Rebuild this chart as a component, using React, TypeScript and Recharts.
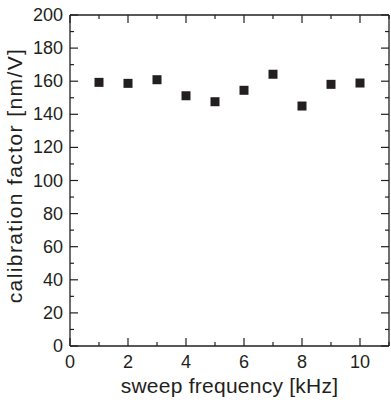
import { ScatterChart, Scatter, XAxis, YAxis, Label } from 'recharts';

// sweep frequency (kHz) and measured calibration factor (nm/V)
const frequencies = [1, 2, 3, 4, 5, 6, 7, 8, 9, 10];
const calibration = [159.3, 158.7, 160.9, 151.2, 147.6, 154.5, 164.2, 145.0, 158.1, 158.9];

const xTicks = [0, 1, 2, 3, 4, 5, 6, 7, 8, 9, 10, 11];
const xLabelled = [0, 2, 4, 6, 8, 10];
const yTicks = [0, 10, 20, 30, 40, 50, 60, 70, 80, 90, 100, 110, 120, 130, 140, 150, 160, 170, 180, 190, 200];
const yLabelled = [0, 20, 40, 60, 80, 100, 120, 140, 160, 180, 200];

const data = frequencies.map((f, i) => ({ f, c: calibration[i] }));

const INK = '#231f20';
const FONT = '"Liberation Sans", Arial, sans-serif';
const MAJOR = 8;
const MINOR = 4;

// ticks point into the plot; only the even/20-step ones carry a number
const BottomTick = (props: any) => {
  const { x, y, payload } = props;
  const major = xLabelled.includes(payload.value);
  return (
    <g>
      <line x1={x} x2={x} y1={y} y2={y - (major ? MAJOR : MINOR)} stroke={INK} strokeWidth={1.2} />
      {major && (
        <text x={x} y={y + 22} textAnchor="middle" fill={INK} fontSize={18} fontFamily={FONT}>
          {payload.value}
        </text>
      )}
    </g>
  );
};

const TopTick = (props: any) => {
  const { x, y, payload } = props;
  const major = xLabelled.includes(payload.value);
  return <line x1={x} x2={x} y1={y} y2={y + (major ? MAJOR : MINOR)} stroke={INK} strokeWidth={1.2} />;
};

const LeftTick = (props: any) => {
  const { x, y, payload } = props;
  const major = yLabelled.includes(payload.value);
  return (
    <g>
      <line x1={x} x2={x + (major ? MAJOR : MINOR)} y1={y} y2={y} stroke={INK} strokeWidth={1.2} />
      {major && (
        <text x={x - 7} y={y + 6} textAnchor="end" fill={INK} fontSize={18} fontFamily={FONT}>
          {payload.value}
        </text>
      )}
    </g>
  );
};

const RightTick = (props: any) => {
  const { x, y, payload } = props;
  const major = yLabelled.includes(payload.value);
  return <line x1={x} x2={x - (major ? MAJOR : MINOR)} y1={y} y2={y} stroke={INK} strokeWidth={1.2} />;
};

const SquareDot = (props: any) => {
  const { cx, cy } = props;
  return <rect x={cx - 4.5} y={cy - 4.5} width={9} height={9} fill={INK} />;
};

const NoDot = () => <g />;

// rotated y title, sitting a little above the plot's vertical centre
const YTitle = (props: any) => {
  const { viewBox } = props;
  const cx = 22;
  const cy = viewBox.y + viewBox.height / 2 - 5;
  return (
    <text
      x={cx}
      y={cy}
      transform={`rotate(-90 ${cx} ${cy})`}
      textAnchor="middle"
      fill={INK}
      fontSize={21}
      fontFamily={FONT}
      letterSpacing={1.4}
    >
      calibration factor [nm/V]
    </text>
  );
};

export default function App() {
  return (
    <div style={{ position: 'fixed', left: 0, top: 0, background: '#fff' }}>
      <ScatterChart width={391} height={400} margin={{ top: 14, right: 1, bottom: 0, left: 0 }}>
        <XAxis
          xAxisId="bottom"
          dataKey="f"
          type="number"
          domain={[0, 11]}
          ticks={xTicks}
          interval={0}
          height={54}
          tickSize={0}
          tickMargin={0}
          tickLine={false}
          axisLine={{ stroke: INK, strokeWidth: 1.3 }}
          tick={BottomTick}
        >
          <Label
            value="sweep frequency [kHz]"
            position="insideBottom"
            offset={7}
            fill={INK}
            fontSize={21}
            fontFamily={FONT}
            letterSpacing={0.25}
          />
        </XAxis>
        <XAxis
          xAxisId="top"
          orientation="top"
          dataKey="f"
          type="number"
          domain={[0, 11]}
          ticks={xTicks}
          interval={0}
          height={1}
          tickSize={0}
          tickMargin={0}
          tickLine={false}
          axisLine={{ stroke: INK, strokeWidth: 1.3 }}
          tick={TopTick}
        />
        <YAxis
          yAxisId="left"
          dataKey="c"
          type="number"
          domain={[0, 200]}
          ticks={yTicks}
          interval={0}
          width={70}
          tickSize={0}
          tickMargin={0}
          tickLine={false}
          axisLine={{ stroke: INK, strokeWidth: 1.3 }}
          tick={LeftTick}
        >
          <Label content={YTitle} />
        </YAxis>
        <YAxis
          yAxisId="right"
          orientation="right"
          dataKey="c"
          type="number"
          domain={[0, 200]}
          ticks={yTicks}
          interval={0}
          width={1}
          tickSize={0}
          tickMargin={0}
          tickLine={false}
          axisLine={{ stroke: INK, strokeWidth: 1.3 }}
          tick={RightTick}
        />
        <Scatter
          xAxisId="bottom"
          yAxisId="left"
          data={data}
          fill={INK}
          shape={SquareDot}
          isAnimationActive={false}
        />
        {/* same points bound to the top/right axes so the frame gets drawn */}
        <Scatter
          xAxisId="top"
          yAxisId="right"
          data={data}
          shape={NoDot}
          legendType="none"
          isAnimationActive={false}
        />
      </ScatterChart>
    </div>
  );
}
